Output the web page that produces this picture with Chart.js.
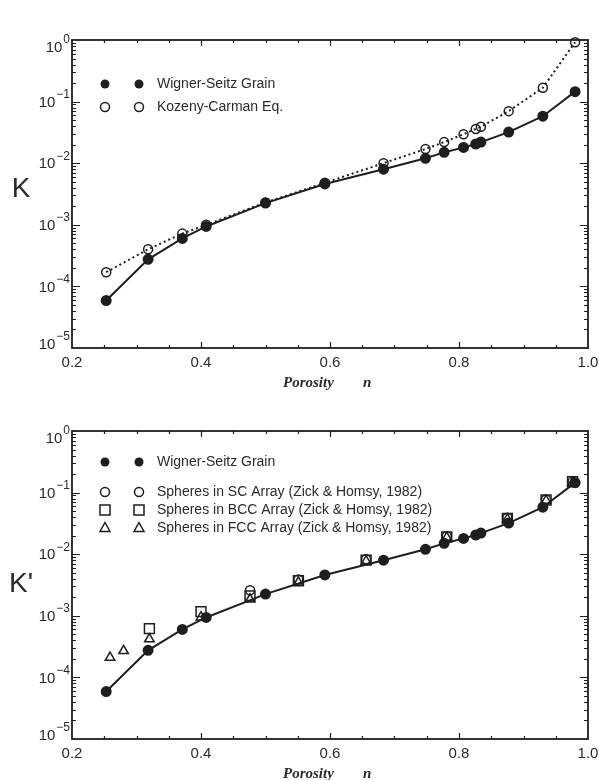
<!DOCTYPE html>
<html>
<head>
<meta charset="utf-8">
<script src="https://cdn.jsdelivr.net/npm/chart.js@4.4.1/dist/chart.umd.min.js"></script>
<style>
body{margin:0;background:#fff;}
.box{position:absolute;left:0;width:599px;height:390px;}
</style>
</head>
<body>
<div class="box" style="top:0"><canvas id="topChart" width="599" height="390"></canvas></div>
<div class="box" style="top:390px"><canvas id="bottomChart" width="599" height="390"></canvas></div>
<script>
// porosity n and permeability values
var porosity = [0.253, 0.318, 0.371, 0.408, 0.50, 0.592, 0.683, 0.748, 0.777, 0.807, 0.826, 0.834, 0.877, 0.930, 0.980];
var wignerSeitz = [5.9e-5, 2.75e-4, 6.0e-4, 9.4e-4, 2.25e-3, 4.6e-3, 8.0e-3, 1.2e-2, 1.5e-2, 1.8e-2, 2.05e-2, 2.2e-2, 3.2e-2, 5.8e-2, 0.145];
var kozenyCarman = [1.7e-4, 4.0e-4, 7.2e-4, 1.0e-3, 2.3e-3, 4.8e-3, 1.0e-2, 1.7e-2, 2.2e-2, 2.95e-2, 3.6e-2, 3.9e-2, 7.0e-2, 0.168, 0.92];

var scPorosity = [0.476, 0.551, 0.656, 0.781, 0.875, 0.935, 0.976];
var scK = [2.6e-3, 3.9e-3, 8.3e-3, 1.95e-2, 3.9e-2, 7.7e-2, 0.15];
var bccPorosity = [0.32, 0.40, 0.476, 0.551, 0.656, 0.781, 0.875, 0.935, 0.976];
var bccK = [6.2e-4, 1.17e-3, 2.1e-3, 3.7e-3, 8.0e-3, 1.9e-2, 3.8e-2, 7.6e-2, 0.15];
var fccPorosity = [0.259, 0.28, 0.32, 0.40, 0.476, 0.551, 0.656, 0.781, 0.875, 0.935, 0.976];
var fccK = [2.1e-4, 2.7e-4, 4.2e-4, 9.5e-4, 1.85e-3, 3.5e-3, 7.7e-3, 1.85e-2, 3.7e-2, 7.4e-2, 0.145];

var xTickLabels = ['0.2', '0.4', '0.6', '0.8', '1.0'];
var yExponents = [0, -1, -2, -3, -4, -5];

var ink = '#1e1e1e';

function toPoints(xs, ys) {
	var out = [];
	for (var i = 0; i < xs.length; i++) out.push({x: xs[i], y: ys[i]});
	return out;
}

function drawSymbol(ctx, style, x, y) {
	ctx.beginPath();
	if (style == 'filled') {
		ctx.arc(x, y, 4.5, 0, Math.PI * 2);
		ctx.fillStyle = ink; ctx.fill();
		return;
	}
	if (style == 'circle') ctx.arc(x, y, 4.5, 0, Math.PI * 2);
	if (style == 'rect') ctx.rect(x - 5, y - 5, 10, 10);
	if (style == 'triangle') { ctx.moveTo(x, y - 5.5); ctx.lineTo(x + 5, y + 3.5); ctx.lineTo(x - 5, y + 3.5); ctx.closePath(); }
	ctx.lineWidth = 1.5; ctx.strokeStyle = ink; ctx.stroke();
}

var framePlugin = {
	id: 'frame',
	afterDraw: function(chart, args, opts) {
		var ctx = chart.ctx, a = chart.chartArea, sx = chart.scales.x, sy = chart.scales.y;
		ctx.save();
		ctx.strokeStyle = ink;
		ctx.lineWidth = 1.2;
		ctx.beginPath();
		// x ticks, top and bottom, pointing in
		for (var i = 1; i < 16; i++) {
			var px = Math.round(sx.getPixelForValue(0.2 + 0.05 * i)) + 0.5;
			var len = (i % 4 == 0) ? 6 : 3;
			ctx.moveTo(px, a.bottom); ctx.lineTo(px, a.bottom - len);
			ctx.moveTo(px, a.top); ctx.lineTo(px, a.top + len);
		}
		// y ticks, left and right
		for (var e = -5; e < 0; e++) {
			for (var m = 1; m < 10; m++) {
				if (e == -5 && m == 1) continue;
				var py = Math.round(sy.getPixelForValue(m * Math.pow(10, e))) + 0.5;
				var l = (m == 1) ? 8 : 4;
				ctx.moveTo(a.left, py); ctx.lineTo(a.left + l, py);
				ctx.moveTo(a.right, py); ctx.lineTo(a.right - l, py);
			}
		}
		ctx.stroke();
		ctx.lineWidth = 1.8;
		ctx.strokeRect(a.left, a.top, a.right - a.left, a.bottom - a.top);

		// tick labels
		ctx.fillStyle = '#2a2a2a';
		ctx.font = '15px "Liberation Sans"';
		ctx.textAlign = 'center';
		ctx.textBaseline = 'middle';
		for (var k = 0; k < xTickLabels.length; k++) {
			ctx.fillText(xTickLabels[k], sx.getPixelForValue(parseFloat(xTickLabels[k])), a.bottom + 15);
		}
		for (var j = 0; j < yExponents.length; j++) {
			var ex = yExponents[j];
			var ty = sy.getPixelForValue(Math.pow(10, ex));
			if (ex == 0) ty += 7;
			if (ex == -5) ty -= 4;
			var expText = ex == 0 ? '0' : '\u2212' + (-ex);
			ctx.textAlign = 'right';
			ctx.font = '12px "Liberation Sans"';
			var w = ctx.measureText(expText).width;
			ctx.fillText(expText, a.left - 2, ty - 7);
			ctx.font = '15px "Liberation Sans"';
			ctx.fillText('10', a.left - 3 - w, ty + 1);
		}

		// axis titles
		ctx.textAlign = 'left';
		ctx.font = 'italic bold 15px "Liberation Serif"';
		ctx.fillText('Porosity', 283, a.bottom + 35);
		ctx.fillText('n', 363, a.bottom + 35);
		ctx.font = '28px "Liberation Sans"';
		ctx.textAlign = 'center';
		ctx.fillText(opts.yTitle, 21, opts.yTitleY);

		// legend
		ctx.font = '14px "Liberation Sans"';
		ctx.textAlign = 'left';
		for (var n = 0; n < opts.legend.length; n++) {
			var it = opts.legend[n];
			drawSymbol(ctx, it.style, 105, it.y);
			drawSymbol(ctx, it.style, 139, it.y);
			ctx.fillStyle = '#2a2a2a';
			ctx.fillText(it.text, 157, it.y);
		}
		ctx.restore();
	}
};

function makeOptions(top, bottom, yTitle, yTitleY, legend) {
	return {
		responsive: false,
		animation: false,
		layout: {padding: {top: top, right: 11, left: 0, bottom: 0}},
		plugins: {
			legend: {display: false},
			tooltip: {enabled: false},
			frame: {yTitle: yTitle, yTitleY: yTitleY, legend: legend}
		},
		scales: {
			x: {
				type: 'linear', min: 0.2, max: 1.0,
				grid: {display: false}, border: {display: false},
				ticks: {display: false},
				afterFit: function(s) { s.height = 390 - bottom; }
			},
			y: {
				type: 'logarithmic', min: 1e-5, max: 1,
				grid: {display: false}, border: {display: false},
				ticks: {display: false},
				afterFit: function(s) { s.width = 72; }
			}
		}
	};
}

new Chart(document.getElementById('topChart'), {
	type: 'scatter',
	data: {
		datasets: [
			{
				label: 'Wigner-Seitz Grain',
				data: toPoints(porosity, wignerSeitz),
				showLine: true, borderColor: ink, borderWidth: 2,
				pointStyle: 'circle', pointRadius: 4.5, pointBackgroundColor: ink, pointBorderColor: ink,
				clip: false
			},
			{
				label: 'Kozeny-Carman Eq.',
				data: toPoints(porosity, kozenyCarman),
				showLine: true, borderColor: ink, borderWidth: 2, borderDash: [2, 3],
				pointStyle: 'circle', pointRadius: 4.5, pointBackgroundColor: 'rgba(0,0,0,0)', pointBorderColor: ink, pointBorderWidth: 1.5,
				clip: false
			}
		]
	},
	options: makeOptions(40, 348, 'K', 189, [
		{style: 'filled', text: 'Wigner-Seitz Grain', y: 84},
		{style: 'circle', text: 'Kozeny-Carman Eq.', y: 107}
	]),
	plugins: [framePlugin]
});

new Chart(document.getElementById('bottomChart'), {
	type: 'scatter',
	data: {
		datasets: [
			{
				label: 'Wigner-Seitz Grain',
				data: toPoints(porosity, wignerSeitz),
				showLine: true, borderColor: ink, borderWidth: 2,
				pointStyle: 'circle', pointRadius: 4.5, pointBackgroundColor: ink, pointBorderColor: ink,
				clip: false
			},
			{
				label: 'Spheres in SC Array (Zick & Homsy, 1982)',
				data: toPoints(scPorosity, scK),
				pointStyle: 'circle', pointRadius: 4.5, pointBackgroundColor: 'rgba(0,0,0,0)', pointBorderColor: ink, pointBorderWidth: 1.5,
				clip: false
			},
			{
				label: 'Spheres in BCC Array (Zick & Homsy, 1982)',
				data: toPoints(bccPorosity, bccK),
				pointStyle: 'rect', pointRadius: 7, pointBackgroundColor: 'rgba(0,0,0,0)', pointBorderColor: ink, pointBorderWidth: 1.5,
				clip: false
			},
			{
				label: 'Spheres in FCC Array (Zick & Homsy, 1982)',
				data: toPoints(fccPorosity, fccK),
				pointStyle: 'triangle', pointRadius: 5.5, pointBackgroundColor: 'rgba(0,0,0,0)', pointBorderColor: ink, pointBorderWidth: 1.5,
				clip: false
			}
		]
	},
	options: makeOptions(41, 349, 'K\'', 194, [
		{style: 'filled', text: 'Wigner-Seitz Grain', y: 72},
		{style: 'circle', text: 'Spheres in SC Array (Zick & Homsy, 1982)', y: 102},
		{style: 'rect', text: 'Spheres in BCC Array (Zick & Homsy, 1982)', y: 120},
		{style: 'triangle', text: 'Spheres in FCC Array (Zick & Homsy, 1982)', y: 138}
	]),
	plugins: [framePlugin]
});
</script>
</body>
</html>
